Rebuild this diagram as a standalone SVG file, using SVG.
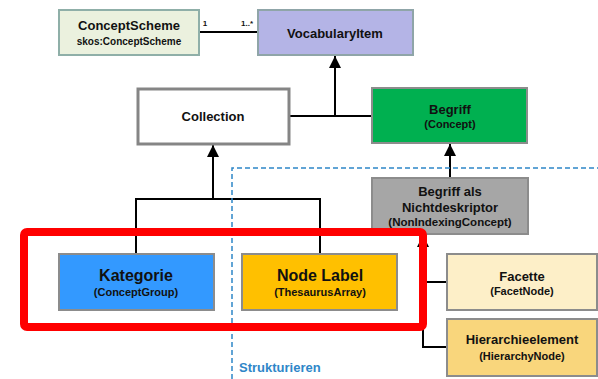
<svg xmlns="http://www.w3.org/2000/svg" width="598" height="379" viewBox="0 0 598 379">
<style>
text{font-family:"Liberation Sans",Arial,sans-serif;font-weight:bold;fill:#111;text-anchor:middle}
.n{stroke:#8c8c8c;stroke-width:2}
.c{stroke:#000;stroke-width:2;fill:none}
.s13{font-size:13px}
.s11{font-size:11px}
.s16{font-size:16px}
</style>
<defs>
<marker id="ah" viewBox="0 0 10 10" refX="10" refY="5" markerWidth="12" markerHeight="12" markerUnits="userSpaceOnUse" orient="auto">
<path d="M0,0 L10,5 L0,10 z" fill="#000"/>
</marker>
</defs>
<g id="connectors">
<line class="c" x1="199" y1="32" x2="258" y2="32"/>
<text x="205" y="26" style="font-size:8px">1</text>
<text x="247" y="26" style="font-size:8px">1..*</text>
<line class="c" x1="335" y1="116" x2="335" y2="56" marker-end="url(#ah)"/>
<line class="c" x1="289" y1="116" x2="372" y2="116"/>
<line class="c" x1="213" y1="199" x2="213" y2="145" marker-end="url(#ah)"/>
<polyline class="c" points="136,254 136,199 320,199 320,254"/>
<line class="c" x1="450" y1="178" x2="450" y2="144" marker-end="url(#ah)"/>
<line class="c" x1="423" y1="347" x2="423" y2="235" marker-end="url(#ah)"/>
<line class="c" x1="423" y1="282" x2="447" y2="282"/>
<line class="c" x1="422" y1="347" x2="447" y2="347"/>
</g>
<g id="struct-area">
<path d="M232,379 V168 H598" fill="none" stroke="#2e86c8" stroke-width="1.5" stroke-dasharray="5,3"/>
<text x="239" y="372" class="s13" style="text-anchor:start;fill:#2e86c8">Strukturieren</text>
</g>
<g id="conceptscheme">
<rect x="59" y="10" width="140" height="45" fill="#ebf1de" stroke="#8fafa8" stroke-width="2"/>
<text x="129" y="30" class="s13">ConceptScheme</text>
<text x="129" y="45" style="font-size:10px">skos:ConceptScheme</text>
</g>
<g id="vocabularyitem">
<rect x="258" y="10" width="155" height="45" fill="#b4b4e6" stroke="#8fa5a8" stroke-width="2"/>
<text x="335" y="38" class="s13">VocabularyItem</text>
</g>
<g id="collection">
<rect x="138" y="89" width="151" height="55" fill="#fff" stroke="#858585" stroke-width="3"/>
<text x="213" y="121" class="s13">Collection</text>
</g>
<g id="begriff">
<rect x="372" y="88" width="155" height="55" fill="#00b050" class="n"/>
<text x="450" y="114" class="s13">Begriff</text>
<text x="450" y="128" class="s11">(Concept)</text>
</g>
<g id="nichtdeskriptor">
<rect x="372" y="178" width="156" height="56" fill="#a6a6a6" class="n"/>
<text x="450" y="196" class="s13">Begriff als</text>
<text x="450" y="212" class="s13">Nichtdeskriptor</text>
<text x="450" y="226" style="font-size:11.5px">(NonIndexingConcept)</text>
</g>
<g id="kategorie">
<rect x="59" y="254" width="155" height="56" fill="#3399ff" class="n"/>
<text x="136" y="281" class="s16">Kategorie</text>
<text x="136" y="296" class="s11">(ConceptGroup)</text>
</g>
<g id="nodelabel">
<rect x="242" y="254" width="155" height="56" fill="#ffc000" class="n"/>
<text x="320" y="281" class="s16">Node Label</text>
<text x="320" y="296" class="s11">(ThesaurusArray)</text>
</g>
<g id="facette">
<rect x="447" y="254" width="150" height="56" fill="#fdefc8" class="n"/>
<text x="522" y="281" class="s13">Facette</text>
<text x="522" y="295" class="s11">(FacetNode)</text>
</g>
<g id="hierarchieelement">
<rect x="447" y="319" width="150" height="57" fill="#f9d67c" class="n"/>
<text x="522" y="344" class="s13">Hierarchieelement</text>
<text x="522" y="360" class="s11">(HierarchyNode)</text>
</g>
<g id="highlight">
<rect x="24" y="232" width="399" height="95" rx="3" fill="none" stroke="#ff0000" stroke-width="8"/>
</g>
</svg>
